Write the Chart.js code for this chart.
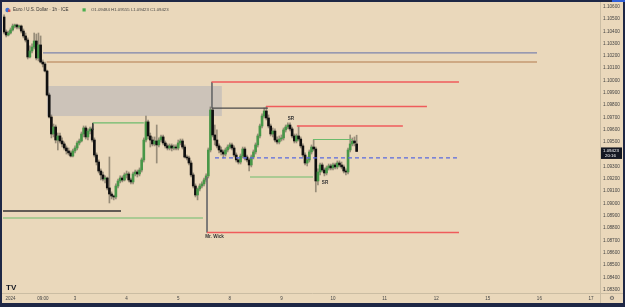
<!DOCTYPE html>
<html>
<head>
<meta charset="utf-8">
<script src="https://cdn.jsdelivr.net/npm/chart.js@4.4.1/dist/chart.umd.min.js"></script>
<style>
html,body{margin:0;padding:0;background:#1e2745;}
canvas{display:block;}
</style>
</head>
<body>
<canvas id="chart" width="625" height="307"></canvas>
<script>
// EUR/USD 1h candles, bar index 0 = first visible bar
const opens = [
1.10516,1.10394,1.10370,1.10386,1.10411,1.10443,1.10451,1.10435,1.10443,1.10402,
1.10362,1.10329,1.10191,1.10240,1.10272,1.10321,1.10183,1.10289,1.10150,1.10134,
1.10077,1.09882,1.09703,1.09565,1.09622,1.09516,1.09549,1.09508,1.09484,1.09451,
1.09427,1.09411,1.09386,1.09427,1.09451,1.09492,1.09508,1.09565,1.09614,1.09541,
1.09589,1.09606,1.09516,1.09394,1.09337,1.09264,1.09232,1.09199,1.09207,1.09126,
1.09077,1.09061,1.09053,1.09142,1.09183,1.09207,1.09191,1.09232,1.09240,1.09191,
1.09175,1.09240,1.09256,1.09240,1.09272,1.09354,1.09516,1.09663,1.09549,1.09516,
1.09484,1.09508,1.09476,1.09516,1.09541,1.09492,1.09468,1.09451,1.09468,1.09451,
1.09459,1.09451,1.09492,1.09508,1.09459,1.09378,1.09370,1.09329,1.09232,1.09142,
1.09069,1.09118,1.09142,1.09159,1.09191,1.09224,1.09435,1.09760,1.09557,1.09516,
1.09468,1.09435,1.09419,1.09402,1.09435,1.09459,1.09476,1.09451,1.09394,1.09354,
1.09337,1.09386,1.09443,1.09378,1.09354,1.09313,1.09378,1.09419,1.09476,1.09549,
1.09630,1.09711,1.09752,1.09695,1.09630,1.09565,1.09589,1.09516,1.09500,1.09524,
1.09533,1.09598,1.09622,1.09638,1.09606,1.09549,1.09508,1.09549,1.09524,1.09468,
1.09394,1.09329,1.09354,1.09419,1.09459,1.09443,1.09183,1.09256,1.09313,1.09272,
1.09248,1.09289,1.09305,1.09289,1.09313,1.09297,1.09329,1.09313,1.09297,1.09264,
1.09256,1.09435,1.09484,1.09508,1.09484
];
const highs = [
1.10533,1.10411,1.10402,1.10427,1.10459,1.10459,1.10459,1.10451,1.10451,1.10419,
1.10386,1.10346,1.10281,1.10297,1.10386,1.10378,1.10386,1.10362,1.10167,1.10150,
1.10085,1.09898,1.09720,1.09646,1.09638,1.09573,1.09573,1.09533,1.09500,1.09468,
1.09451,1.09427,1.09443,1.09468,1.09508,1.09524,1.09581,1.09630,1.09630,1.09606,
1.09622,1.09622,1.09533,1.09411,1.09354,1.09281,1.09256,1.09224,1.09215,1.09378,
1.09094,1.09069,1.09159,1.09199,1.09224,1.09224,1.09248,1.09264,1.09256,1.09207,
1.09256,1.09272,1.09272,1.09289,1.09370,1.09533,1.09711,1.09679,1.09573,1.09541,
1.09541,1.09638,1.09533,1.09557,1.09557,1.09508,1.09484,1.09484,1.09484,1.09476,
1.09476,1.09516,1.09524,1.09524,1.09476,1.09394,1.09386,1.09346,1.09248,1.09159,
1.09126,1.09159,1.09175,1.09207,1.09240,1.09451,1.09785,1.09776,1.09638,1.09598,
1.09484,1.09459,1.09435,1.09451,1.09476,1.09492,1.09492,1.09468,1.09411,1.09362,
1.09402,1.09459,1.09459,1.09394,1.09370,1.09394,1.09435,1.09492,1.09565,1.09646,
1.09728,1.09776,1.09785,1.09720,1.09646,1.09614,1.09606,1.09541,1.09549,1.09557,
1.09614,1.09638,1.09655,1.09655,1.09622,1.09565,1.09565,1.09630,1.09541,1.09484,
1.09411,1.09378,1.09435,1.09476,1.09516,1.09459,1.09281,1.09329,1.09329,1.09289,
1.09305,1.09321,1.09321,1.09329,1.09329,1.09346,1.09346,1.09337,1.09313,1.09281,
1.09451,1.09557,1.09533,1.09541,1.09555
];
const lows = [
1.10378,1.10354,1.10362,1.10378,1.10402,1.10427,1.10419,1.10419,1.10386,1.10346,
1.10313,1.10175,1.10183,1.10224,1.10256,1.10167,1.10159,1.10142,1.10110,1.10069,
1.09874,1.09695,1.09533,1.09541,1.09492,1.09435,1.09492,1.09459,1.09435,1.09402,
1.09394,1.09378,1.09378,1.09411,1.09435,1.09476,1.09500,1.09541,1.09524,1.09516,
1.09565,1.09500,1.09378,1.09313,1.09248,1.09191,1.09183,1.09167,1.09110,1.09004,
1.09037,1.09029,1.09037,1.09126,1.09167,1.09175,1.09183,1.09207,1.09175,1.09159,
1.09159,1.09224,1.09215,1.09224,1.09256,1.09337,1.09500,1.09524,1.09459,1.09468,
1.09468,1.09329,1.09459,1.09500,1.09476,1.09451,1.09435,1.09435,1.09427,1.09435,
1.09435,1.09435,1.09476,1.09443,1.09370,1.09354,1.09313,1.09215,1.09126,1.09053,
1.09029,1.09102,1.09126,1.09142,1.09175,1.09207,1.09419,1.09541,1.09476,1.09451,
1.09411,1.09394,1.09370,1.09386,1.09419,1.09443,1.09435,1.09378,1.09337,1.09321,
1.09321,1.09370,1.09354,1.09337,1.09264,1.09297,1.09362,1.09402,1.09459,1.09533,
1.09614,1.09695,1.09679,1.09614,1.09549,1.09541,1.09500,1.09484,1.09484,1.09508,
1.09516,1.09581,1.09606,1.09589,1.09533,1.09492,1.09492,1.09508,1.09451,1.09378,
1.09313,1.09305,1.09337,1.09402,1.09427,1.09094,1.09150,1.09232,1.09256,1.09224,
1.09232,1.09272,1.09272,1.09272,1.09281,1.09281,1.09297,1.09281,1.09248,1.09232,
1.09240,1.09419,1.09468,1.09468,1.09423
];
const closes = [
1.10394,1.10370,1.10386,1.10411,1.10443,1.10451,1.10435,1.10443,1.10402,1.10362,
1.10329,1.10191,1.10240,1.10272,1.10321,1.10183,1.10289,1.10150,1.10134,1.10077,
1.09882,1.09703,1.09565,1.09622,1.09516,1.09549,1.09508,1.09484,1.09451,1.09427,
1.09411,1.09386,1.09427,1.09451,1.09492,1.09508,1.09565,1.09614,1.09541,1.09589,
1.09606,1.09516,1.09394,1.09337,1.09264,1.09232,1.09199,1.09207,1.09126,1.09077,
1.09061,1.09053,1.09142,1.09183,1.09207,1.09191,1.09232,1.09240,1.09191,1.09175,
1.09240,1.09256,1.09240,1.09272,1.09354,1.09516,1.09663,1.09549,1.09516,1.09484,
1.09508,1.09476,1.09516,1.09541,1.09492,1.09468,1.09451,1.09468,1.09451,1.09459,
1.09451,1.09492,1.09508,1.09459,1.09378,1.09370,1.09329,1.09232,1.09142,1.09069,
1.09118,1.09142,1.09159,1.09191,1.09224,1.09435,1.09760,1.09557,1.09516,1.09468,
1.09435,1.09419,1.09402,1.09435,1.09459,1.09476,1.09451,1.09394,1.09354,1.09337,
1.09386,1.09443,1.09378,1.09354,1.09313,1.09378,1.09419,1.09476,1.09549,1.09630,
1.09711,1.09752,1.09695,1.09630,1.09565,1.09589,1.09516,1.09500,1.09524,1.09533,
1.09598,1.09622,1.09638,1.09606,1.09549,1.09508,1.09549,1.09524,1.09468,1.09394,
1.09329,1.09354,1.09419,1.09459,1.09443,1.09183,1.09256,1.09313,1.09272,1.09248,
1.09289,1.09305,1.09289,1.09313,1.09297,1.09329,1.09313,1.09297,1.09264,1.09256,
1.09435,1.09484,1.09508,1.09492,1.09423
];

// axis labels
const tickBars = [3, 18, 33, 57, 81, 105, 129, 153, 177, 201, 225, 249, 273];
const tickText = ['2024', '09:00', '3', '4', '5', '8', '9', '10', '11', '12', '15', '16', '17'];
const priceTicks = [1.106, 1.105, 1.104, 1.103, 1.102, 1.101, 1.100, 1.099, 1.098, 1.097, 1.096, 1.095,
                    1.094, 1.093, 1.092, 1.091, 1.090, 1.089, 1.088, 1.087, 1.086, 1.085, 1.084, 1.083];

// drawn horizontal levels (price, from bar, to bar)
const levelPrice = [1.10224, 1.10150, 1.09988, 1.09776, 1.09789, 1.09630, 1.09520, 1.09215, 1.09655, 1.08939, 1.08882, 1.08764, 1.09370];
const levelFrom  = [18.1, 19.8, 96.5, 96.7, 121.8, 136.2, 143.7, 114.4, 41.3, -0.5, -0.5, 94.4, 98.1];
const levelTo    = [247.9, 247.9, 211.6, 122.7, 196.7, 185.5, 161.8, 143.7, 65.0, 54.4, 92.5, 211.6, 212.0];

// vertical markers (bar, top price, bottom price)
const markBar = [96.7, 94.4, 41.3];
const markTop = [1.09988, 1.09215, 1.09655];
const markBottom = [1.09776, 1.08764, 1.09598];

// zone box
const zoneBars = [19.95, 101.3];
const zonePrices = [1.09955, 1.09711];

// notes
const noteText = ['SR', 'SR', 'Mr. Wick'];
const noteBar = [133.4, 149.3, 97.9];
const notePrice = [1.09687, 1.09167, 1.08728];

const GREEN = '#489748';
const BLACK = '#101010';
const FONT = '"Liberation Sans", Arial, sans-serif';
const levelStyle = [
  {c: '#7c84ad', w: 1.2}, {c: '#c49a72', w: 1.5}, {c: '#ef5b5b', w: 1.5}, {c: '#4a4a4a', w: 1.2},
  {c: '#ef5b5b', w: 1.5}, {c: '#ef5b5b', w: 1.5}, {c: '#6cbb6c', w: 1.1}, {c: '#6cbb6c', w: 1.1},
  {c: '#6cbb6c', w: 1.1}, {c: '#333333', w: 1.4}, {c: '#6cbb6c', w: 1.1}, {c: '#ef5b5b', w: 1.5},
  {c: '#5868e0', w: 1.2, dash: [4, 3]}
];
const markStyle = ['#6e6e6e', '#6e6e6e', '#3a3a3a'];

const bars = opens.map((o, i) => i);
const bodyData = bars.map(i => ({x: i, y: [opens[i], closes[i]]}));
const wickData = bars.map(i => ({x: i, y: [lows[i], highs[i]]}));
const bodyColors = bars.map(i => closes[i] >= opens[i] ? GREEN : BLACK);

const datasets = [];
levelPrice.forEach((p, k) => {
  datasets.push({
    type: 'line',
    data: [{x: levelFrom[k], y: p}, {x: levelTo[k], y: p}],
    borderColor: levelStyle[k].c,
    borderWidth: levelStyle[k].w,
    borderDash: levelStyle[k].dash || [],
    pointRadius: 0,
    order: 0
  });
});
markBar.forEach((b, k) => {
  datasets.push({
    type: 'line',
    data: [{x: b, y: markTop[k]}, {x: b, y: markBottom[k]}],
    borderColor: markStyle[k],
    borderWidth: 1,
    pointRadius: 0,
    order: 0
  });
});
datasets.push({
  type: 'bar',
  data: bodyData,
  backgroundColor: bodyColors,
  barThickness: 2,
  minBarLength: 1,
  grouped: false,
  order: 1
});
datasets.push({
  type: 'bar',
  data: wickData,
  backgroundColor: 'rgba(70,66,56,0.5)',
  barThickness: 1,
  grouped: false,
  order: 2
});

const frame = {
  id: 'frame',
  beforeDraw(chart) {
    const ctx = chart.ctx;
    ctx.save();
    ctx.fillStyle = '#1e2745';
    ctx.fillRect(0, 0, 625, 307);
    ctx.fillStyle = '#ead8bb';
    ctx.fillRect(2, 2, 621, 301);
    ctx.fillStyle = '#2f5fd8';
    ctx.fillRect(612, 0, 13, 2);
    ctx.strokeStyle = '#cbbda3';
    ctx.lineWidth = 1;
    ctx.beginPath();
    ctx.moveTo(600.5, 2); ctx.lineTo(600.5, 303);
    ctx.moveTo(2, 293.5); ctx.lineTo(623, 293.5);
    ctx.stroke();
    ctx.restore();
  },
  beforeDatasetsDraw(chart) {
    const {ctx, scales: {x, y}} = chart;
    const x0 = x.getPixelForValue(zoneBars[0]), x1 = x.getPixelForValue(zoneBars[1]);
    const y0 = y.getPixelForValue(zonePrices[0]), y1 = y.getPixelForValue(zonePrices[1]);
    ctx.save();
    ctx.fillStyle = 'rgba(178,178,184,0.55)';
    ctx.fillRect(x0, y0, x1 - x0, y1 - y0);
    ctx.restore();
  },
  afterDatasetsDraw(chart) {
    const {ctx, scales: {x, y}} = chart;
    ctx.save();
    ctx.fillStyle = '#333';
    ctx.font = 'bold 4.6px ' + FONT;
    ctx.textAlign = 'center';
    ctx.textBaseline = 'middle';
    noteText.forEach((t, k) => {
      ctx.fillText(t, x.getPixelForValue(noteBar[k]), y.getPixelForValue(notePrice[k]));
    });
    ctx.restore();
  },
  afterDraw(chart) {
    const {ctx, scales: {x, y}} = chart;
    const last = closes.length - 1;
    ctx.save();
    ctx.textBaseline = 'middle';
    // price axis labels
    ctx.fillStyle = '#444';
    ctx.font = '4.7px ' + FONT;
    ctx.textAlign = 'left';
    priceTicks.forEach(p => ctx.fillText(p.toFixed(5), 603, y.getPixelForValue(p)));
    // time axis labels
    ctx.textAlign = 'center';
    ctx.font = '4.5px ' + FONT;
    tickBars.forEach((b, k) => ctx.fillText(tickText[k], x.getPixelForValue(b), 298.5));
    // last price tag
    const py = y.getPixelForValue(closes[last]);
    ctx.fillStyle = '#131722';
    ctx.fillRect(601, py - 4, 21, 11.5);
    ctx.fillStyle = '#ffffff';
    ctx.font = '4.4px ' + FONT;
    ctx.textAlign = 'left';
    ctx.fillText(closes[last].toFixed(5), 603, py - 0.5);
    ctx.fillText('20:16', 605, py + 4.3);
    // header
    ctx.fillStyle = '#3b6fd6';
    ctx.beginPath(); ctx.arc(7.5, 10, 2.2, 0, Math.PI * 2); ctx.fill();
    ctx.fillStyle = '#d84a4a';
    ctx.fillRect(8, 9.5, 2.4, 2.4);
    ctx.fillStyle = '#333';
    ctx.font = '4.5px ' + FONT;
    ctx.fillText('Euro / U.S. Dollar \u00b7 1h \u00b7 ICE', 13, 10.2);
    ctx.fillStyle = '#4caf50';
    ctx.fillRect(82.5, 8.3, 3.2, 3.2);
    ctx.fillStyle = '#444';
    ctx.font = '4.3px ' + FONT;
    ctx.fillText('O' + opens[last].toFixed(5) + ' H' + highs[last].toFixed(5) +
      ' L' + lows[last].toFixed(5) + ' C' + closes[last].toFixed(5), 91, 10.2);
    // logo and settings icon
    ctx.fillStyle = '#131722';
    ctx.font = 'bold 8px ' + FONT;
    ctx.fillText('TV', 6, 287.5);
    ctx.fillStyle = '#555';
    ctx.font = '6px "DejaVu Sans", sans-serif';
    ctx.textAlign = 'center';
    ctx.fillText('\u2699', 612, 298.5);
    ctx.restore();
  }
};

new Chart(document.getElementById('chart'), {
  type: 'bar',
  data: {datasets: datasets},
  options: {
    responsive: false,
    animation: false,
    events: [],
    layout: {padding: {left: 3, top: 3, right: 25, bottom: 14}},
    plugins: {legend: {display: false}, tooltip: {enabled: false}},
    scales: {
      x: {type: 'linear', display: false, offset: false, min: -0.5, max: 277.2},
      y: {type: 'linear', display: false, min: 1.08272, max: 1.10630}
    }
  },
  plugins: [frame]
});
</script>
</body>
</html>
